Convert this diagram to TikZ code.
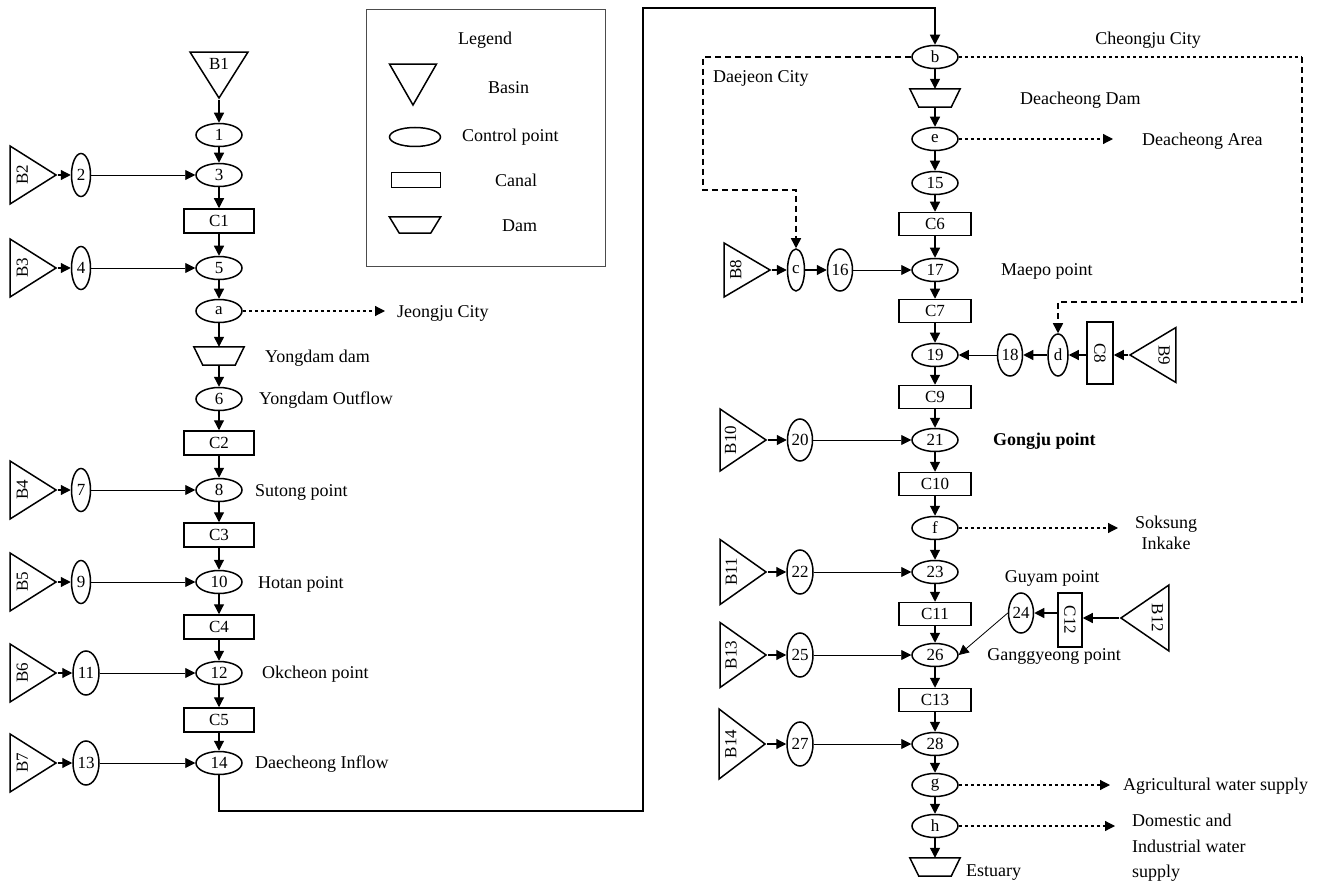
\documentclass[tikz,border=0pt]{standalone}
\usepackage{fontspec}
\setmainfont{Liberation Serif}
\usepackage{graphicx}
\usetikzlibrary{shapes.geometric,arrows.meta}
\begin{document}
\begin{tikzpicture}[x=1pt,y=-1pt,
  shp/.style={draw, line width=1.5pt, inner sep=0pt, font=\fontsize{17}{17}\selectfont},
  cp/.style={shp, ellipse, minimum width=46pt, minimum height=23pt},
  cpv/.style={shp, ellipse, minimum width=19pt, minimum height=43pt},
  cpw/.style={shp, ellipse, minimum width=26pt, minimum height=44pt},
  canal/.style={shp, rectangle, minimum width=70pt, minimum height=24pt},
  canalv/.style={shp, rectangle, minimum width=25pt, minimum height=58pt},
  dambox/.style={inner sep=0pt, minimum width=50pt, minimum height=18pt},
  damline/.style={line width=1.5pt, line join=miter},
  basinR/.style={shp, isosceles triangle, isosceles triangle stretches=true, shape border rotate=0,
    minimum width=58pt, minimum height=46pt, anchor=apex},
  basinL/.style={shp, isosceles triangle, isosceles triangle stretches=true, shape border rotate=180,
    minimum width=58pt, minimum height=46pt, anchor=apex},
  basinD/.style={shp, isosceles triangle, isosceles triangle stretches=true, shape border rotate=-90,
    minimum width=58pt, minimum height=46pt, anchor=apex},
  lbl/.style={font=\fontsize{18}{22}\selectfont, inner sep=0pt, anchor=west},
  flow/.style={-{Triangle[length=10pt,width=10pt]}, line width=1.2pt},
  inflow/.style={-{Triangle[length=10pt,width=10pt]}, line width=0.8pt},
  dotarrow/.style={-{Triangle[length=10pt,width=10pt]}, line width=1.2pt, dash pattern=on 3pt off 3pt},
  dashline/.style={line width=1.5pt, dash pattern=on 6pt off 4pt},
  dotline/.style={line width=1.3pt, dash pattern=on 3pt off 3pt},
  bus/.style={-{Triangle[length=10pt,width=10pt]}, line width=1.8pt}
]
\useasboundingbox (0,0) rectangle (1323,885);

% ---------------- Legend ----------------
\draw[line width=1pt, draw=black!70] (366,10) rectangle (605,267);
\node[lbl, anchor=center] (legT) at (485,40) {Legend};
\node[basinD, minimum width=47pt, minimum height=41pt] (legB) at (413,107) {};
\node[lbl] (legBt) at (488,88) {Basin};
\node[shp, ellipse, minimum width=51pt, minimum height=19pt] (legC) at (415,137) {};
\node[lbl] (legCt) at (462,137) {Control point};
\node[shp, rectangle, minimum width=49pt, minimum height=15pt] (legK) at (416,180) {};
\node[lbl] (legKt) at (495,180) {Canal};
\node[dambox, minimum width=51pt, minimum height=16pt] (legD) at (415,225) {};
\draw[damline] (legD.north west) -- (legD.north east) -- ([xshift=-10pt]legD.south east) -- ([xshift=10pt]legD.south west) -- cycle;
\node[lbl] (legDt) at (502,226) {Dam};

% ---------------- Left column ----------------
\node[basinD] (B1) at (219,100) {B1};
\node[cp] (n1) at (219,135) {1};
\node[cp] (n3) at (219,175) {3};
\node[canal] (C1) at (219,221) {C1};
\node[cp] (n5) at (219,268) {5};
\node[cp] (na) at (219,311) {a};
\node[dambox] (D1) at (219,356) {};
\draw[damline] (D1.north west) -- (D1.north east) -- ([xshift=-9pt]D1.south east) -- ([xshift=9pt]D1.south west) -- cycle;
\node[cp] (n6) at (219,399) {6};
\node[canal] (C2) at (219,443) {C2};
\node[cp] (n8) at (219,490) {8};
\node[canal] (C3) at (219,535) {C3};
\node[cp] (n10) at (219,582) {10};
\node[canal] (C4) at (219,627) {C4};
\node[cp] (n12) at (219,673) {12};
\node[canal] (C5) at (219,720) {C5};
\node[cp] (n14) at (219,763) {14};

\node[basinR] (B2) at (58,175) {\rotatebox{90}{B2}};
\node[cpv] (n2) at (81,175) {2};
\node[basinR] (B3) at (58,268) {\rotatebox{90}{B3}};
\node[cpv] (n4) at (81,268) {4};
\node[basinR] (B4) at (58,490) {\rotatebox{90}{B4}};
\node[cpv] (n7) at (81,490) {7};
\node[basinR] (B5) at (58,582) {\rotatebox{90}{B5}};
\node[cpv] (n9) at (81,582) {9};
\node[basinR] (B6) at (58,673) {\rotatebox{90}{B6}};
\node[cpw] (n11) at (86,673) {11};
\node[basinR] (B7) at (58,763) {\rotatebox{90}{B7}};
\node[cpw] (n13) at (86,763) {13};

\node[lbl] (tJe) at (397,313) {Jeongju City};
\coordinate (jeEnd) at (385,311);
\node[lbl] (tYd) at (265,358) {Yongdam dam};
\node[lbl] (tYo) at (259,400) {Yongdam Outflow};
\node[lbl] (tSu) at (255,492) {Sutong point};
\node[lbl] (tHo) at (258,584) {Hotan point};
\node[lbl] (tOk) at (262,674) {Okcheon point};
\node[lbl] (tDi) at (255,764) {Daecheong Inflow};

\draw[flow] (B1.apex) -- (n1.north);
\draw[flow] (n1) -- (n3.north);
\draw[flow] (n3) -- (C1.north);
\draw[flow] (C1.south) -- (n5.north);
\draw[flow] (n5) -- (na.north);
\draw[flow] (na.south) -- (D1.north);
\draw[flow] (D1.south) -- (n6.north);
\draw[flow] (n6) -- (C2.north);
\draw[flow] (C2.south) -- (n8.north);
\draw[flow] (n8) -- (C3.north);
\draw[flow] (C3.south) -- (n10.north);
\draw[flow] (n10) -- (C4.north);
\draw[flow] (C4.south) -- (n12.north);
\draw[flow] (n12) -- (C5.north);
\draw[flow] (C5.south) -- (n14.north);
\draw[dotarrow] (na.east) -- (jeEnd);

\foreach \b/\s/\t in {B2/n2/n3, B3/n4/n5, B4/n7/n8, B5/n9/n10, B6/n11/n12, B7/n13/n14}{
  \draw[flow] (\b.apex) -- (\s.west);
  \draw[inflow] (\s.east) -- (\t.west);
}

% ---------------- Right column ----------------
\node[cp] (nb) at (935,57) {b};
\node[dambox] (D2) at (935,98) {};
\draw[damline] (D2.north west) -- (D2.north east) -- ([xshift=-9pt]D2.south east) -- ([xshift=9pt]D2.south west) -- cycle;
\node[cp] (ne) at (935,139) {e};
\node[cp] (n15) at (935,183) {15};
\node[canal, minimum width=72pt, minimum height=23pt] (C6) at (935,224) {C6};
\node[cp] (n17) at (935,270) {17};
\node[canal, minimum width=72pt, minimum height=23pt] (C7) at (935,311) {C7};
\node[cp] (n19) at (935,355) {19};
\node[canal, minimum width=72pt, minimum height=23pt] (C9) at (935,397) {C9};
\node[cp] (n21) at (935,440) {21};
\node[canal, minimum width=72pt, minimum height=23pt] (C10) at (935,484) {C10};
\node[cp] (nf) at (935,528) {f};
\node[cp] (n23) at (935,572) {23};
\node[canal, minimum width=72pt, minimum height=23pt] (C11) at (935,614) {C11};
\node[cp] (n26) at (935,655) {26};
\node[canal, minimum width=72pt, minimum height=23pt] (C13) at (935,700) {C13};
\node[cp] (n28) at (935,744) {28};
\node[cp] (ng) at (935,785) {g};
\node[cp] (nh) at (935,826) {h};
\node[dambox] (D3) at (935,867) {};
\draw[damline] (D3.north west) -- (D3.north east) -- ([xshift=-9pt]D3.south east) -- ([xshift=9pt]D3.south west) -- cycle;

% bus line from left column to right column
\draw[bus] (n14.south) |- (643,811) -- (643,8) -| (nb.north);

\node[basinR, minimum width=54pt] (B8) at (772,270) {\rotatebox{90}{B8}};
\node[cpv, minimum width=17pt, minimum height=42pt] (nc) at (796,270) {c};
\node[cpw, minimum width=25pt, minimum height=42pt] (n16) at (840,270) {16};
\node[basinL, minimum width=55pt] (B9) at (1128,355) {\rotatebox{-90}{B9}};
\node[canalv, minimum width=26pt, minimum height=62pt] (C8) at (1100,353) {\rotatebox{-90}{C8}};
\node[cpv, minimum width=20pt, minimum height=42pt] (nd) at (1058,355) {d};
\node[cpw, minimum width=25pt, minimum height=42pt] (n18) at (1010,355) {18};
\node[basinR, minimum width=62pt] (B10) at (768,440) {\rotatebox{90}{B10}};
\node[cpw, minimum width=25pt, minimum height=42pt] (n20) at (800,440) {20};
\node[basinR, minimum width=65pt] (B11) at (768,572) {\rotatebox{90}{B11}};
\node[cpw, minimum width=26pt, minimum height=44pt] (n22) at (800,572) {22};
\node[basinL, minimum width=66pt, minimum height=48pt] (B12) at (1119,618) {\rotatebox{-90}{B12}};
\node[canalv, minimum width=24pt, minimum height=54pt] (C12) at (1070,620) {\rotatebox{-90}{C12}};
\node[cpw, minimum width=25pt, minimum height=40pt] (n24) at (1021,613) {24};
\node[basinR, minimum width=65pt] (B13) at (768,655) {\rotatebox{90}{B13}};
\node[cpw, minimum width=26pt, minimum height=44pt] (n25) at (800,655) {25};
\node[basinR, minimum width=70pt] (B14) at (767,744) {\rotatebox{90}{B14}};
\node[cpw, minimum width=26pt, minimum height=44pt] (n27) at (800,744) {27};

% labels
\node[lbl, anchor=center] (tCh) at (1148,40) {Cheongju City};
\node[lbl] (tDj) at (713,78) {Daejeon City};
\node[lbl] (tDd) at (1020,100) {Deacheong Dam};
\node[lbl] (tDa) at (1142,141) {Deacheong Area};
\node[lbl] (tMa) at (1001,271) {Maepo point};
\node[lbl, font=\fontsize{18}{22}\selectfont\bfseries] (tGo) at (993,441) {Gongju point};
\node[lbl, anchor=center, align=center, font=\fontsize{18}{21}\selectfont] (tSo) at (1166,533) {Soksung\\Inkake};
\node[lbl, anchor=center] (tGu) at (1052,578) {Guyam point};
\node[lbl, anchor=center] (tGa) at (1054,656) {Ganggyeong point};
\node[lbl] (tAg) at (1123,786) {Agricultural water supply};
\node[lbl, align=left, font=\fontsize{18}{25.5}\selectfont] (tDo) at (1132,848) {Domestic and\\Industrial water\\supply};
\node[lbl] (tEs) at (966,873) {Estuary};

\coordinate (eEnd) at (1113,139);
\coordinate (fEnd) at (1118,528);
\coordinate (gEnd) at (1110,785);
\coordinate (hEnd) at (1115,826);
\coordinate (chq) at (1302,57);

% main flow right
\draw[flow] (nb.south) -- (D2.north);
\draw[flow] (D2.south) -- (ne.north);
\draw[flow] (ne) -- (n15.north);
\draw[flow] (n15) -- (C6.north);
\draw[flow] (C6.south) -- (n17.north);
\draw[flow] (n17) -- (C7.north);
\draw[flow] (C7.south) -- (n19.north);
\draw[flow] (n19) -- (C9.north);
\draw[flow] (C9.south) -- (n21.north);
\draw[flow] (n21) -- (C10.north);
\draw[flow] (C10.south) -- (nf.north);
\draw[flow] (nf) -- (n23.north);
\draw[flow] (n23) -- (C11.north);
\draw[flow] (C11.south) -- (n26.north);
\draw[flow] (n26) -- (C13.north);
\draw[flow] (C13.south) -- (n28.north);
\draw[flow] (n28) -- (ng.north);
\draw[flow] (ng) -- (nh.north);
\draw[flow] (nh) -- (D3.north);

% side inflows
\draw[flow] (B8.apex) -- (nc.west);
\draw[flow] (nc.east) -- (n16.west);
\draw[inflow] (n16.east) -- (n17.west);
\draw[flow] (B9.apex) -- (C8.east |- B9.apex);
\draw[flow] (C8.west |- nd.east) -- (nd.east);
\draw[flow] (nd.west) -- (n18.east);
\draw[inflow] (n18.west) -- (n19.east);
\draw[flow] (B10.apex) -- (n20.west);
\draw[inflow] (n20.east) -- (n21.west);
\draw[flow] (B11.apex) -- (n22.west);
\draw[inflow] (n22.east) -- (n23.west);
\draw[flow] (B12.apex) -- (C12.east |- B12.apex);
\draw[flow] (C12.west |- n24.east) -- (n24.east);
\draw[inflow] (n24.west) -- (n26.east);
\draw[flow] (B13.apex) -- (n25.west);
\draw[inflow] (n25.east) -- (n26.west);
\draw[flow] (B14.apex) -- (n27.west);
\draw[inflow] (n27.east) -- (n28.west);

% diversions
\draw[dotarrow] (ne.east) -- (eEnd);
\draw[dotarrow] (nf.east) -- (fEnd);
\draw[dotarrow] (ng.east) -- (gEnd);
\draw[dotarrow] (nh.east) -- (hEnd);
\draw[dashline, -{Triangle[length=10pt,width=10pt]}] (nb.west) -| (703,190) -| (nc.north);
\draw[dotline] (nb.east) -- (chq);
\draw[dashline, -{Triangle[length=10pt,width=10pt]}] (chq) |- (1058,302) -- (nd.north);
\end{tikzpicture}
\end{document}
